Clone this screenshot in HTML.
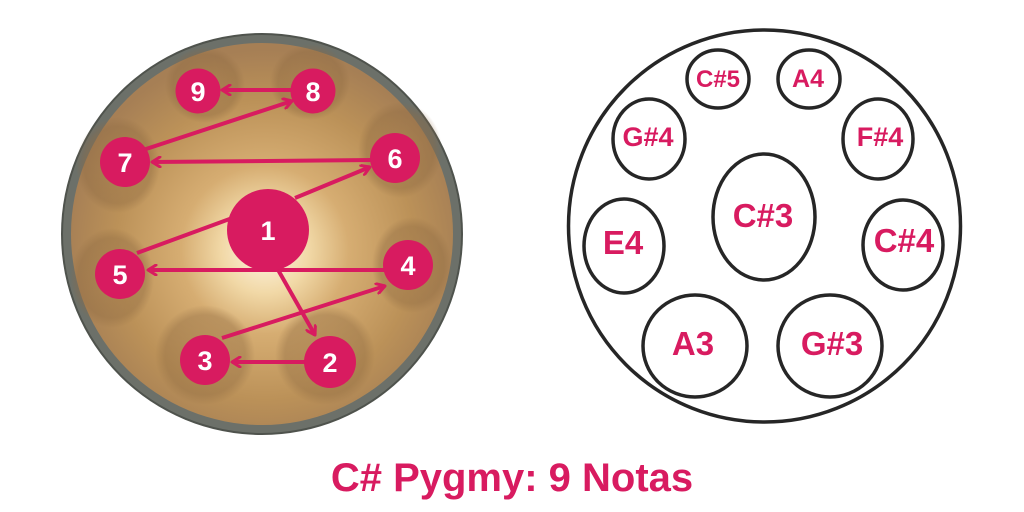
<!DOCTYPE html>
<html><head><meta charset="utf-8"><style>
html,body{margin:0;padding:0;background:#fff;width:1024px;height:512px;overflow:hidden}
svg{display:block}
</style></head><body>
<svg width="1024" height="512" viewBox="0 0 1024 512" xmlns="http://www.w3.org/2000/svg">
<defs>
<radialGradient id="pan" cx="265" cy="250" r="200" gradientUnits="userSpaceOnUse">
<stop offset="0" stop-color="#fff6e4"/>
<stop offset="0.22" stop-color="#f1d8a6"/>
<stop offset="0.42" stop-color="#d6ad72"/>
<stop offset="0.75" stop-color="#bb9158"/>
<stop offset="1" stop-color="#a67f55"/>
</radialGradient>
<radialGradient id="dent" cx="0.5" cy="0.5" r="0.5">
<stop offset="0" stop-color="#a47c4c" stop-opacity="0.5"/>
<stop offset="0.8" stop-color="#8e6a42" stop-opacity="0.4"/>
<stop offset="1" stop-color="#8e6a42" stop-opacity="0"/>
</radialGradient>
<marker id="ah" viewBox="0 0 12 12" refX="10" refY="6" markerWidth="12" markerHeight="12" markerUnits="userSpaceOnUse" orient="auto">
<polyline points="2,1 10,6 2,11" fill="none" stroke="#d81b60" stroke-width="3" stroke-linecap="round" stroke-linejoin="round"/>
</marker>
</defs>

<circle cx="262" cy="234" r="201" fill="#4f534d"/>
<circle cx="262" cy="234" r="199" fill="#6c7069"/>
<circle cx="262" cy="234" r="191" fill="url(#pan)"/>
<g fill="url(#dent)">
<ellipse cx="205" cy="85" rx="40" ry="38"/>
<ellipse cx="310" cy="82" rx="40" ry="38"/>
<ellipse cx="118" cy="165" rx="42" ry="48"/>
<ellipse cx="400" cy="150" rx="42" ry="48"/>
<ellipse cx="112" cy="278" rx="42" ry="50"/>
<ellipse cx="412" cy="265" rx="40" ry="48"/>
<ellipse cx="205" cy="355" rx="50" ry="50"/>
<ellipse cx="325" cy="355" rx="50" ry="50"/>
</g>

<g stroke="#d81b60" stroke-width="4" fill="none">
<line x1="291" y1="90" x2="222" y2="90" marker-end="url(#ah)"/>
<line x1="143" y1="150" x2="292" y2="101" marker-end="url(#ah)"/>
<line x1="372" y1="160" x2="152" y2="162" marker-end="url(#ah)"/>
<line x1="295" y1="198" x2="370" y2="167" marker-end="url(#ah)"/>
<line x1="137" y1="253" x2="235" y2="217"/>
<line x1="385" y1="270" x2="148" y2="270" marker-end="url(#ah)"/>
<line x1="277" y1="268" x2="315" y2="335" marker-end="url(#ah)"/>
<line x1="222" y1="338" x2="385" y2="286" marker-end="url(#ah)"/>
<line x1="305" y1="362" x2="232" y2="362" marker-end="url(#ah)"/>
</g>
<g fill="#d81b60">
<circle cx="198" cy="91" r="22.5"/>
<circle cx="313" cy="91" r="22.5"/>
<circle cx="125" cy="162" r="25"/>
<circle cx="395" cy="158" r="25"/>
<circle cx="268" cy="230" r="41"/>
<circle cx="120" cy="274" r="25"/>
<circle cx="408" cy="265" r="25"/>
<circle cx="205" cy="360" r="25"/>
<circle cx="330" cy="362" r="26"/>
</g>
<g fill="#fff" font-family="Liberation Sans, sans-serif" font-weight="bold" text-anchor="middle" font-size="27">
<text x="198" y="101">9</text>
<text x="313" y="101">8</text>
<text x="125" y="172">7</text>
<text x="395" y="168">6</text>
<text x="268" y="240">1</text>
<text x="120" y="284">5</text>
<text x="408" y="275">4</text>
<text x="205" y="370">3</text>
<text x="330" y="372">2</text>
</g>

<g fill="none" stroke="#262626" stroke-width="3.5">
<circle cx="764.5" cy="226" r="196"/>
<ellipse cx="718" cy="79" rx="31" ry="29"/>
<ellipse cx="809" cy="79" rx="31" ry="29"/>
<ellipse cx="649" cy="139" rx="36" ry="40"/>
<ellipse cx="878" cy="139" rx="35" ry="40"/>
<ellipse cx="764" cy="217" rx="51" ry="63"/>
<ellipse cx="624" cy="246" rx="40" ry="47"/>
<ellipse cx="903" cy="245" rx="40" ry="45"/>
<ellipse cx="695" cy="346" rx="52" ry="51"/>
<ellipse cx="830" cy="346" rx="52" ry="51"/>
</g>
<g fill="#d81b60" font-family="Liberation Sans, sans-serif" font-weight="bold" text-anchor="middle">
<text x="718" y="87" font-size="24">C#5</text>
<text x="808" y="87" font-size="25">A4</text>
<text x="648" y="146" font-size="27">G#4</text>
<text x="880" y="146" font-size="27">F#4</text>
<text x="763" y="227" font-size="33">C#3</text>
<text x="623" y="254" font-size="33">E4</text>
<text x="904" y="252" font-size="33">C#4</text>
<text x="693" y="355" font-size="33">A3</text>
<text x="832" y="355" font-size="33">G#3</text>
</g>

<text x="512" y="491" fill="#d81b60" font-family="Liberation Sans, sans-serif" font-weight="bold" font-size="40" text-anchor="middle">C# Pygmy: 9 Notas</text>
</svg>
</body></html>
